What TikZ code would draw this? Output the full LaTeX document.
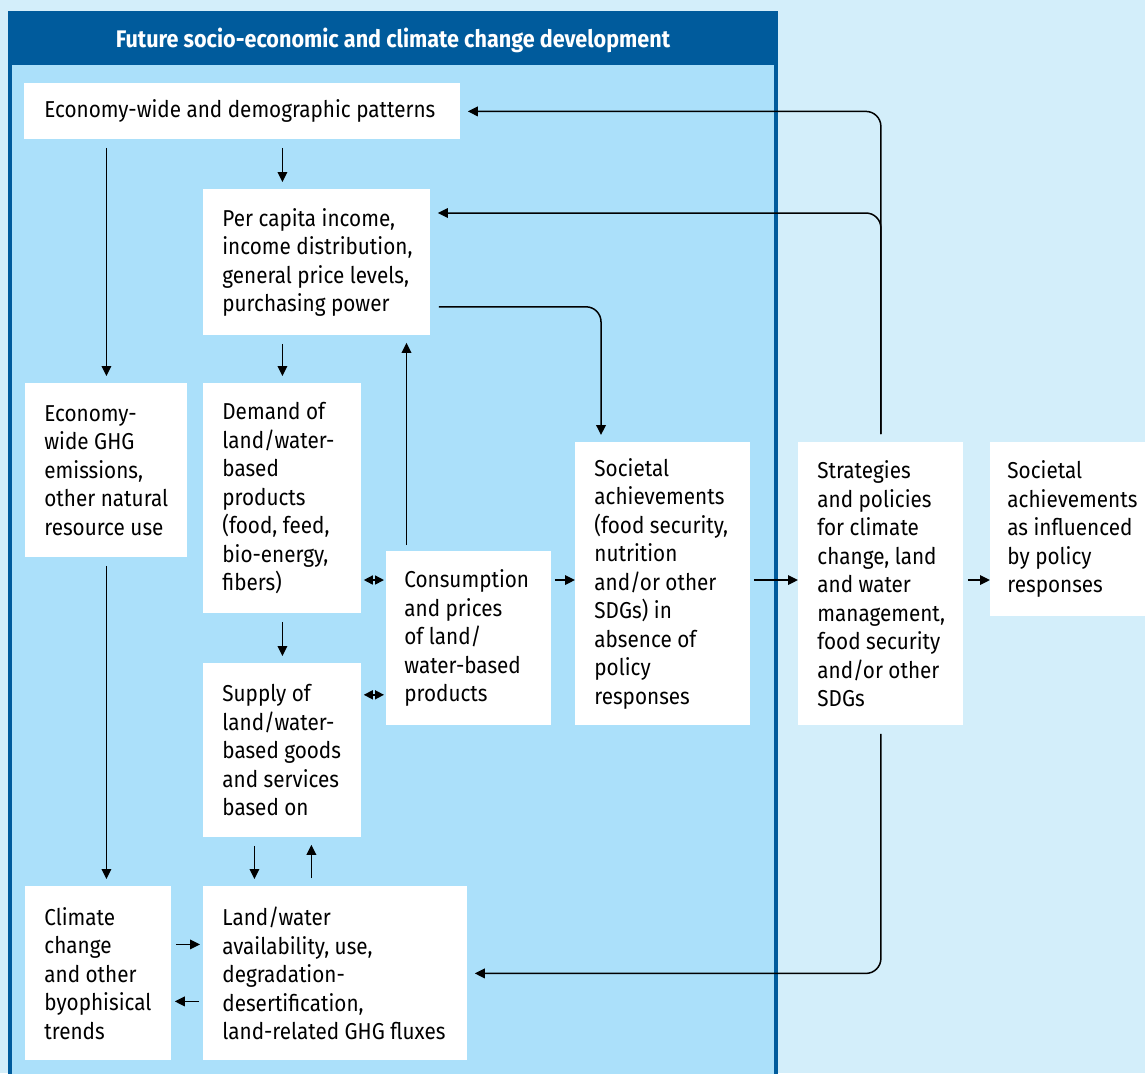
\documentclass[tikz,border=0pt]{standalone}
\usepackage{fontspec}
\setmainfont{Fira Sans}[FakeStretch=0.9]
\usetikzlibrary{arrows.meta}
\definecolor{skyback}{HTML}{D3EEFA}
\definecolor{skyin}{HTML}{ABE0FA}
\definecolor{navy}{HTML}{005B9C}
\tikzset{
  box/.style={fill=white, anchor=north west, inner sep=0pt},
  txt/.style={anchor=west, align=left, inner sep=0pt, font={\fontsize{11.5}{14.25}\selectfont}},
  arr/.style={-{Triangle[length=5pt,width=4.8pt]}, line width=0.75pt, shorten <=4pt, shorten >=3.5pt},
  darr/.style={{Triangle[length=4.5pt,width=4.5pt]}-{Triangle[length=4.5pt,width=4.5pt]}, line width=0.75pt, shorten <=1pt, shorten >=1pt},
}
\begin{document}
\begin{tikzpicture}[x=0.5pt,y=-0.5pt]
  \useasboundingbox (0,0) rectangle (1145,1073);
  \clip (0,0) rectangle (1145,1073);
  \fill[skyback] (0,0) rectangle (1145,1073);
  % frame of the socio-economic part
  \fill[skyin] (10,13) rectangle (776,1090);
  \fill[navy] (10,13) rectangle (776,65);
  \draw[navy, line width=1.7pt] (10,1090) -- (10,13) -- (776,13) -- (776,1090);
  \node[text=white, font={\fontsize{12}{14}\selectfont\bfseries}] (title) at (393,40) {Future socio-economic and climate change development};

  % boxes
  \node[box, minimum width=218pt, minimum height=28pt] (econ) at (24,83) {};
  \node[txt] (econ-t) at ([xshift=10pt]econ.west) {Economy-wide and demographic patterns};
  \node[box, minimum width=113.5pt, minimum height=73pt] (income) at (203,189) {};
  \node[txt] (income-t) at ([xshift=9.5pt]income.west) {Per capita income,\\income distribution,\\general price levels,\\purchasing power};
  \node[box, minimum width=81pt, minimum height=87pt] (ghg) at (25,383) {};
  \node[txt] (ghg-t) at ([xshift=9.5pt]ghg.west) {Economy-\\wide GHG\\emissions,\\other natural\\resource use};
  \node[box, minimum width=79pt, minimum height=115pt] (demand) at (203,383) {};
  \node[txt] (demand-t) at ([xshift=9.5pt]demand.west) {Demand of\\land/water-\\based\\products\\(food, feed,\\bio-energy,\\fibers)};
  \node[box, minimum width=82.5pt, minimum height=87pt] (cons) at (386,551) {};
  \node[txt] (cons-t) at ([xshift=9pt]cons.west) {Consumption\\and prices\\of land/\\water-based\\products};
  \node[box, minimum width=87.5pt, minimum height=141.5pt] (soc) at (575,442) {};
  \node[txt] (soc-t) at ([xshift=9.5pt]soc.west) {Societal\\achievements\\(food security,\\nutrition\\and/or other\\SDGs) in\\absence of\\policy\\responses};
  \node[box, minimum width=79pt, minimum height=87pt] (supply) at (203,663) {};
  \node[txt] (supply-t) at ([xshift=9.5pt]supply.west) {Supply of\\land/water-\\based goods\\and services\\based on};
  \node[box, minimum width=73pt, minimum height=87pt] (climate) at (25,886) {};
  \node[txt] (climate-t) at ([xshift=9.5pt]climate.west) {Climate\\change\\and other\\byophisical\\trends};
  \node[box, minimum width=132pt, minimum height=87pt] (land) at (203,886) {};
  \node[txt] (land-t) at ([xshift=9.5pt]land.west) {Land/water\\availability, use,\\degradation-\\desertification,\\land-related GHG fluxes};
  \node[box, minimum width=82.5pt, minimum height=141.5pt] (strat) at (798,442) {};
  \node[txt] (strat-t) at ([xshift=9.5pt]strat.west) {Strategies\\and policies\\for climate\\change, land\\and water\\management,\\food security\\and/or other\\SDGs};
  \node[box, minimum width=80pt, minimum height=87pt] (achv) at (990,442) {};
  \node[txt] (achv-t) at ([xshift=8.5pt]achv.west) {Societal\\achievements\\as influenced\\by policy\\responses};

  % connectors
  \draw[arr] (econ.south -| ghg.north) -- (ghg.north);
  \draw[arr] (econ.south -| demand.north) -- (income.north -| demand.north);
  \draw[arr] (income.south -| demand.north) -- (demand.north);
  \draw[arr] (ghg.south) -- (climate.north -| ghg.south);
  \draw[arr] (demand.south) -- (supply.north);
  \draw[arr] ([xshift=-14pt]supply.south) -- ([xshift=-14pt]supply.south |- land.north);
  \draw[arr] ([xshift=14.5pt]supply.south |- land.north) -- ([xshift=14.5pt]supply.south);
  \draw[arr, shorten <=2pt, shorten >=1.5pt] ([yshift=14.5pt]climate.east) -- ([yshift=14.5pt]climate.east -| land.west);
  \draw[arr, shorten <=2pt, shorten >=1.5pt] ([yshift=-14pt]climate.east -| land.west) -- ([yshift=-14pt]climate.east);
  \draw[darr] ([yshift=-14.5pt]cons.north west -| demand.east) -- ([yshift=-14.5pt]cons.north west);
  \draw[darr] ([yshift=15.5pt]cons.south west -| supply.east) -- ([yshift=15.5pt]cons.south west);
  \draw[arr, shorten <=3pt] ([xshift=10.25pt]cons.north west) -- ([xshift=10.25pt]cons.north west |- income.south);
  \draw[arr, rounded corners=7.5pt] ([yshift=14.5pt]income.south east) -| ([xshift=13pt]soc.north west);
  \draw[arr, shorten <=1.5pt, shorten >=0pt] ([yshift=-14.5pt]cons.north east) -- ([yshift=-14.5pt]cons.north east -| soc.west);
  \draw[arr, shorten <=1.5pt, shorten >=0pt] ([yshift=-14.5pt]cons.north east -| soc.east) -- ([yshift=-14.5pt]cons.north east -| strat.west);
  \draw[arr, shorten <=2pt, shorten >=0pt] ([yshift=-14.5pt]cons.north east -| strat.east) -- ([yshift=-14.5pt]cons.north east -| achv.west);
  \draw[arr, rounded corners=7.5pt] (strat.north) |- (econ.east);
  \draw[arr, rounded corners=7.5pt] (strat.north) |- ([yshift=-12pt]income.north east);
  \draw[arr, rounded corners=7.5pt] (strat.south) |- (land.east);
\end{tikzpicture}
\end{document}
